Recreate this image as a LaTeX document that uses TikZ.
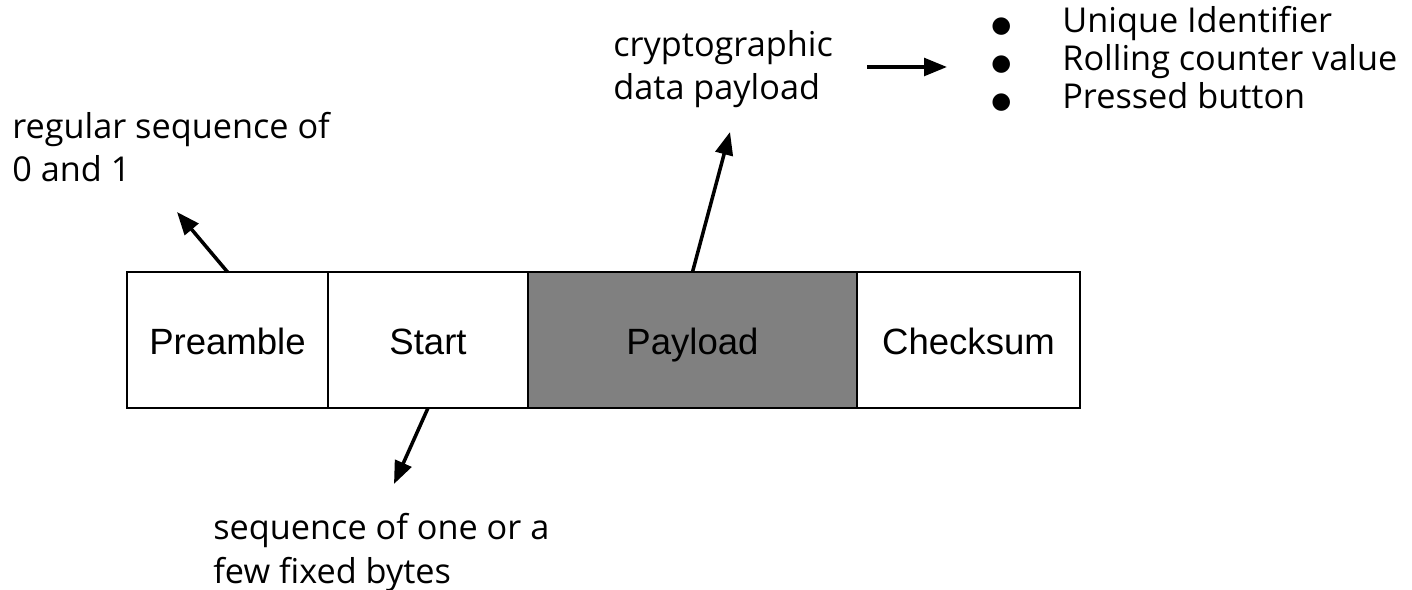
\documentclass[tikz,border=0pt]{standalone}
\usepackage{fontspec}
\setmainfont[Ligatures=NoCommon]{Open Sans}
\newfontfamily\fieldfont{Liberation Sans}
\newfontfamily\symfont{DejaVu Sans}
\usetikzlibrary{arrows.meta, positioning}

\newcommand\bul{\llap{{\symfont\fontsize{13}{13}\selectfont ●}\hspace{29pt}}}

\tikzset{
  field/.style={draw, line width=1pt, outer sep=0pt, minimum height=136*0.02cm,
    text height=20pt, text depth=4pt,
    font=\fieldfont\fontsize{20.8}{24}\selectfont},
  note/.style={inner sep=0pt, align=left, font=\fontsize{19.5}{25}\selectfont},
  pointer/.style={line width=2pt, -{Triangle[length=13pt,width=10pt]}}
}

\begin{document}
\begin{tikzpicture}[x=0.02cm, y=-0.02cm]
\useasboundingbox (0,0) rectangle (1412,590);
% the frame fields
\node (pre) [field, minimum width=201*0.02cm, anchor=north west] at (127,272) {Preamble};
\node (sta) [field, minimum width=200*0.02cm, right=0pt of pre] {Start};
\node (pay) [field, fill=gray, minimum width=329*0.02cm, right=0pt of sta] {Payload};
\node (chk) [field, minimum width=223*0.02cm, right=0pt of pay] {Checksum};
% notes (base = last line)
\node (seq) [note, anchor=base west] at (12,182) {regular sequence of\\0 and 1};
\node (fix) [note, anchor=base west] at (213,583) {sequence of one or a\\few fixed bytes};
\node (cry) [note, anchor=base west] at (613,100) {cryptographic\\data payload};
\node (lst) [note, anchor=base west, font=\fontsize{19.5}{21.9}\selectfont] at (1062,109)
  {\bul Unique Identifier\\\bul Rolling counter value\\\bul Pressed button};
% pointers
\coordinate (seqtip) at (177,212);
\coordinate (fixtip) at (394,484);
\coordinate (crytip) at (730,132);
\coordinate (lstfrom) at (867,67);
\coordinate (lstto) at (947,67);
\draw[pointer] (pre.north) -- (seqtip);
\draw[pointer] (sta.south) -- (fixtip);
\draw[pointer] (pay.north) -- (crytip);
\draw[pointer] (lstfrom) -- (lstto);
\end{tikzpicture}
\end{document}
